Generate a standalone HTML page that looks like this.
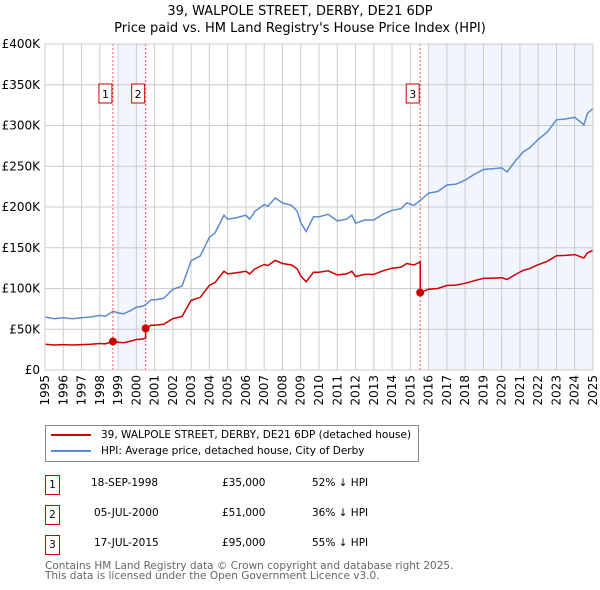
<!DOCTYPE html>
<html><head><meta charset="utf-8">
<style>
body{margin:0;background:#fff;font-family:"DejaVu Sans","Liberation Sans",sans-serif;}
#wrap{position:relative;width:600px;height:590px;overflow:hidden;}
svg text{font-family:"DejaVu Sans","Liberation Sans",sans-serif;}
.row{position:absolute;font-size:10.5px;color:#000;}
.nb{position:absolute;width:13px;height:18px;border:1px solid #c00;font-size:10.5px;text-align:center;line-height:18px;}
</style></head><body>
<div id="wrap">
<svg id="chart" width="600" height="420"></svg>
<div style="position:absolute;left:45px;top:425px;width:372px;height:35px;border:1px solid #888;font-size:10.5px;">
  <div style="position:absolute;left:5px;top:3px;white-space:nowrap"><span style="display:inline-block;width:40px;height:2px;background:#c00;vertical-align:middle;margin-right:10px"></span>39, WALPOLE STREET, DERBY, DE21 6DP (detached house)</div>
  <div style="position:absolute;left:5px;top:19px;white-space:nowrap"><span style="display:inline-block;width:40px;height:2px;background:#5b8bd0;vertical-align:middle;margin-right:10px"></span>HPI: Average price, detached house, City of Derby</div>
</div>
<div class="nb" style="left:45px;top:475px">1</div>
<div class="row" style="left:91px;top:477px">18-SEP-1998</div>
<div class="row" style="left:222px;top:477px">£35,000</div>
<div class="row" style="left:312px;top:477px">52% ↓ HPI</div>
<div class="nb" style="left:45px;top:505px">2</div>
<div class="row" style="left:94px;top:507px">05-JUL-2000</div>
<div class="row" style="left:222px;top:507px">£51,000</div>
<div class="row" style="left:312px;top:507px">36% ↓ HPI</div>
<div class="nb" style="left:45px;top:535px">3</div>
<div class="row" style="left:94px;top:537px">17-JUL-2015</div>
<div class="row" style="left:222px;top:537px">£95,000</div>
<div class="row" style="left:312px;top:537px">55% ↓ HPI</div>
<div style="position:absolute;left:45px;top:561px;font-size:10.5px;color:#666;line-height:10px">Contains HM Land Registry data © Crown copyright and database right 2025.<br>This data is licensed under the Open Government Licence v3.0.</div>
</div>
<script>
const hpiYears=[1995,1995.5,1996,1996.5,1997,1997.5,1998,1998.3,1998.72,1999,1999.3,1999.7,2000,2000.3,2000.51,2000.8,2001,2001.5,2002,2002.5,2003,2003.5,2004,2004.3,2004.8,2005,2005.5,2006,2006.2,2006.5,2007,2007.2,2007.6,2008,2008.5,2008.8,2009,2009.3,2009.7,2010,2010.5,2011,2011.5,2011.8,2012,2012.5,2013,2013.5,2014,2014.5,2014.8,2015.2,2015.54,2016,2016.5,2017,2017.5,2018,2018.5,2019,2019.5,2020,2020.3,2020.8,2021.2,2021.5,2022,2022.5,2023,2023.5,2024,2024.5,2024.7,2025];
const hpiValues=[65,63,64,63,64,65,67,66,72,70,69,73,77,78,80,86,86,88,99,103,134,140,163,168,190,185,187,190,185,195,203,201,211,205,202,195,181,170,188,188,191,183,185,190,180,184,184,191,196,198,205,202,208,217,219,227,228,233,240,246,247,248,243,258,268,272,283,292,307,308,310,301,315,321];
const saleYears=[1998.72,2000.51,2015.54];
const salePrices=[35,51,95];
const yTicks=[0,50,100,150,200,250,300,350,400];
const xTicks=[1995,1996,1997,1998,1999,2000,2001,2002,2003,2004,2005,2006,2007,2008,2009,2010,2011,2012,2013,2014,2015,2016,2017,2018,2019,2020,2021,2022,2023,2024,2025];
const NS="http://www.w3.org/2000/svg";
const svg=document.getElementById('chart');
const L=45,R=593,T=44,B=370;
const xs=y=>L+(y-1995)/30*(R-L);
const ys=v=>B-v/400*(B-T);
function mk(tag,attrs,parent){const e=document.createElementNS(NS,tag);for(const k in attrs)e.setAttribute(k,attrs[k]);(parent||svg).appendChild(e);return e;}
let t=mk('text',{x:300,y:15,'text-anchor':'middle','font-size':13});t.textContent='39, WALPOLE STREET, DERBY, DE21 6DP';


t=mk('text',{x:300,y:32,'text-anchor':'middle','font-size':13});t.textContent="Price paid vs. HM Land Registry's House Price Index (HPI)";


let s=mk('rect',{x:xs(1999),y:T,width:xs(saleYears[1])-xs(1999),height:B-T,fill:'#eef3fc',opacity:0.8});


s=mk('rect',{x:xs(2016),y:T,width:R-xs(2016),height:B-T,fill:'#eef3fc',opacity:0.8});


xTicks.forEach(y=>{const l=mk('line',{x1:xs(y),x2:xs(y),y1:T,y2:B,stroke:'#ccc','stroke-width':1});


const tx=mk('text',{transform:`translate(${xs(y)+4},${B+5}) rotate(-90)`,'text-anchor':'end','font-size':12});tx.textContent=y;

});
yTicks.forEach(v=>{const l=mk('line',{x1:L,x2:R,y1:ys(v),y2:ys(v),stroke:'#ccc','stroke-width':1});


const tx=mk('text',{x:L-5,y:ys(v)+4,'text-anchor':'end','font-size':12});tx.textContent=v===0?'£0':'£'+v+'K';

});
saleYears.forEach((y,i)=>{const l=mk('line',{x1:xs(y),x2:xs(y),y1:T,y2:B,stroke:'#e55','stroke-width':1,'stroke-dasharray':'2,2'});


const g=mk('g',{});


mk('rect',{x:xs(y)-14,y:84,width:13,height:19,fill:'#fff',stroke:'#c00'},g);
const tx=mk('text',{x:xs(y)-7.5,y:98,'text-anchor':'middle','font-size':11},g);tx.textContent=i+1;});
const hp=hpiYears.map((y,i)=>xs(y).toFixed(1)+','+ys(hpiValues[i]).toFixed(1)).join(' ');
let p=mk('polyline',{points:hp,fill:'none',stroke:'#5b8bd0','stroke-width':1.5});


function hpiAt(y){for(let i=1;i<hpiYears.length;i++){if(y<=hpiYears[i]){const f=(y-hpiYears[i-1])/(hpiYears[i]-hpiYears[i-1]);return hpiValues[i-1]+f*(hpiValues[i]-hpiValues[i-1]);}}return hpiValues[hpiValues.length-1];}
const ratios=saleYears.map((y,i)=>salePrices[i]/hpiAt(y));
const pts=[];
hpiYears.forEach((y,i)=>{let k=0;for(let j=0;j<saleYears.length;j++)if(y>=saleYears[j])k=j;
 saleYears.forEach((sy,j)=>{if(j>0&&i>0&&sy>hpiYears[i-1]&&sy<=y){pts.push([sy,hpiAt(sy)*ratios[j-1]]);pts.push([sy,salePrices[j]]);}});
 pts.push([y,hpiValues[i]*ratios[k]]);});
p=mk('polyline',{points:pts.map(q=>xs(q[0]).toFixed(1)+','+ys(q[1]).toFixed(1)).join(' '),fill:'none',stroke:'#c00','stroke-width':1.5});


saleYears.forEach((y,i)=>{const c=mk('circle',{cx:xs(y),cy:ys(salePrices[i]),r:4,fill:'#c00'});

});
let a=mk('rect',{x:L,y:T,width:R-L,height:B-T,fill:'none',stroke:'#ccc'});


</script>
</body></html>
